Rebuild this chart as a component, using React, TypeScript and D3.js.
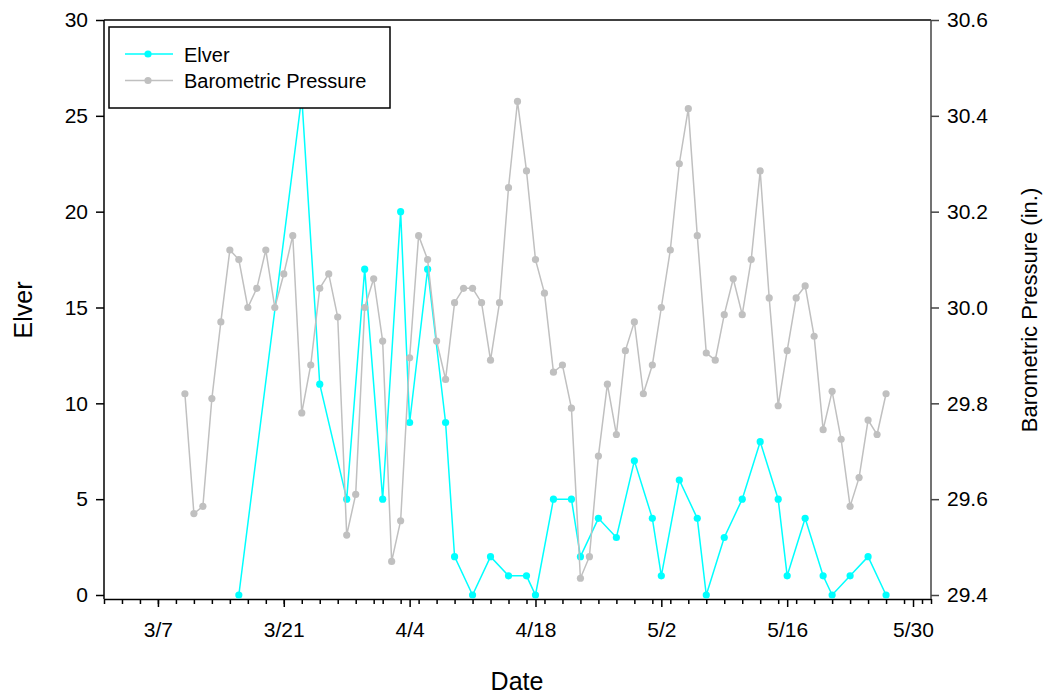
import React, { useEffect, useRef } from "react";
import * as d3 from "d3";

const YEAR = 2009;

// Elver counts (left axis)
const elverDates = [
  "3/16", "3/23", "3/25", "3/28", "3/30", "4/1", "4/3", "4/4", "4/6", "4/8",
  "4/9", "4/11", "4/13", "4/15", "4/17", "4/18", "4/20", "4/22", "4/23", "4/25",
  "4/27", "4/29", "5/1", "5/2", "5/4", "5/6", "5/7", "5/9", "5/11", "5/13",
  "5/15", "5/16", "5/18", "5/20", "5/21", "5/23", "5/25", "5/27",
];
const elverValues = [
  0, 26, 11, 5, 17, 5, 20, 9, 17, 9,
  2, 0, 2, 1, 1, 0, 5, 5, 2, 4,
  3, 7, 4, 1, 6, 4, 0, 3, 5, 8,
  5, 1, 4, 1, 0, 1, 2, 0,
];

// Barometric pressure, daily (right axis)
const pressureDates = [
  "3/10", "3/11", "3/12", "3/13", "3/14", "3/15", "3/16", "3/17", "3/18", "3/19",
  "3/20", "3/21", "3/22", "3/23", "3/24", "3/25", "3/26", "3/27", "3/28", "3/29",
  "3/30", "3/31", "4/1", "4/2", "4/3", "4/4", "4/5", "4/6", "4/7", "4/8",
  "4/9", "4/10", "4/11", "4/12", "4/13", "4/14", "4/15", "4/16", "4/17", "4/18",
  "4/19", "4/20", "4/21", "4/22", "4/23", "4/24", "4/25", "4/26", "4/27", "4/28",
  "4/29", "4/30", "5/1", "5/2", "5/3", "5/4", "5/5", "5/6", "5/7", "5/8",
  "5/9", "5/10", "5/11", "5/12", "5/13", "5/14", "5/15", "5/16", "5/17", "5/18",
  "5/19", "5/20", "5/21", "5/22", "5/23", "5/24", "5/25", "5/26", "5/27",
];
const pressureValues = [
  29.82, 29.57, 29.585, 29.81, 29.97, 30.12, 30.1, 30.0, 30.04, 30.12,
  30.0, 30.07, 30.15, 29.78, 29.88, 30.04, 30.07, 29.98, 29.525, 29.61,
  30.0, 30.06, 29.93, 29.47, 29.555, 29.895, 30.15, 30.1, 29.93, 29.85,
  30.01, 30.04, 30.04, 30.01, 29.89, 30.01, 30.25, 30.43, 30.285, 30.1,
  30.03, 29.865, 29.88, 29.79, 29.435, 29.48, 29.69, 29.84, 29.735, 29.91,
  29.97, 29.82, 29.88, 30.0, 30.12, 30.3, 30.415, 30.15, 29.905, 29.89,
  29.985, 30.06, 29.985, 30.1, 30.285, 30.02, 29.795, 29.91, 30.02, 30.045,
  29.94, 29.745, 29.825, 29.725, 29.585, 29.645, 29.765, 29.735, 29.82,
];

const xDomain = ["3/1", "6/1"];
const xTickLabels = ["3/7", "3/21", "4/4", "4/18", "5/2", "5/16", "5/30"];
const leftTicks = [0, 5, 10, 15, 20, 25, 30];
const rightTicks = [29.4, 29.6, 29.8, 30.0, 30.2, 30.4, 30.6];

const seriesNames = ["Elver", "Barometric Pressure"];
const seriesColors = ["#00ffff", "#c0c0c0"];

const parseDay = (s: string) => {
  const [m, d] = s.split("/").map(Number);
  return new Date(Date.UTC(YEAR, m - 1, d));
};

const FONT = "'Liberation Sans', Arial, Helvetica, sans-serif";

const App: React.FC = () => {
  const svgRef = useRef<SVGSVGElement>(null);

  useEffect(() => {
    if (!svgRef.current) return;
    const svg = d3.select(svgRef.current);
    svg.selectAll("*").remove();

    const width = 1055;
    const height = 698;
    const left = 104;
    const right = 931;
    const top = 20;
    const zeroY = 595;
    const axisY = 599;

    svg.attr("width", width).attr("height", height).style("font-family", FONT);

    const x = d3
      .scaleUtc()
      .domain(xDomain.map(parseDay))
      .range([left, right]);
    const yLeft = d3.scaleLinear().domain([0, 30]).range([zeroY, top]);
    const yRight = d3.scaleLinear().domain([29.4, 30.6]).range([zeroY, top]);

    // frame lines
    svg
      .append("line")
      .attr("x1", left)
      .attr("x2", right)
      .attr("y1", top)
      .attr("y2", top)
      .attr("stroke", "#000")
      .attr("stroke-width", 1.5);

    // x axis: minor ticks every 2 days, labelled majors
    const minorTicks = d3.utcDay.every(2)!.range(x.domain()[0], d3.utcDay.offset(x.domain()[1], 1));
    const xMinor = svg.append("g").attr("transform", `translate(0,${axisY})`);
    xMinor
      .call(
        d3
          .axisBottom(x)
          .tickValues(minorTicks)
          .tickSize(5)
          .tickSizeOuter(0)
          .tickFormat(() => "")
      )
      .call((g) => g.select(".domain").attr("stroke", "#000").attr("stroke-width", 1.5));
    xMinor.selectAll(".tick line").attr("stroke", "#000").attr("stroke-width", 1.5);

    const xMajor = svg.append("g").attr("transform", `translate(0,${axisY})`);
    xMajor
      .call(
        d3
          .axisBottom(x)
          .tickValues(xTickLabels.map(parseDay))
          .tickSize(8)
          .tickPadding(15)
          .tickFormat((d) => d3.utcFormat("%-m/%-d")(d as Date))
      )
      .call((g) => g.select(".domain").remove());
    xMajor.selectAll(".tick line").attr("stroke", "#000").attr("stroke-width", 1.5);
    xMajor
      .selectAll(".tick text")
      .attr("fill", "#000")
      .style("font-size", "21px")
      .style("font-family", FONT);

    // left axis
    const gl = svg.append("g").attr("transform", `translate(${left},0)`);
    gl.call(
      d3
        .axisLeft(yLeft)
        .tickValues(leftTicks)
        .tickSize(8)
        .tickSizeOuter(0)
        .tickPadding(8)
        .tickFormat((d) => String(d))
    );
    gl.select(".domain").attr("d", `M0,${top}V${axisY}`).attr("stroke", "#000").attr("stroke-width", 1.5);
    gl.selectAll(".tick line").attr("stroke", "#000").attr("stroke-width", 1.5);
    gl.selectAll(".tick text")
      .attr("fill", "#000")
      .style("font-size", "21px")
      .style("font-family", FONT);

    // right axis
    const gr = svg.append("g").attr("transform", `translate(${right},0)`);
    gr.call(
      d3
        .axisRight(yRight)
        .tickValues(rightTicks)
        .tickSize(8)
        .tickSizeOuter(0)
        .tickPadding(8)
        .tickFormat(d3.format(".1f"))
    );
    gr.select(".domain").attr("d", `M0,${top}V${axisY}`).attr("stroke", "#444").attr("stroke-width", 1.5);
    gr.selectAll(".tick line").attr("stroke", "#444").attr("stroke-width", 1.5);
    gr.selectAll(".tick text")
      .attr("fill", "#000")
      .style("font-size", "21px")
      .style("font-family", FONT);

    // axis titles
    svg
      .append("text")
      .attr("transform", `translate(32,310) rotate(-90)`)
      .attr("text-anchor", "middle")
      .style("font-size", "25px")
      .text("Elver");

    svg
      .append("text")
      .attr("x", 517)
      .attr("y", 690)
      .attr("text-anchor", "middle")
      .style("font-size", "25px")
      .text("Date");

    svg
      .append("text")
      .attr("transform", `translate(1037,310) rotate(-90)`)
      .attr("text-anchor", "middle")
      .style("font-size", "22px")
      .text("Barometric Pressure (in.)");

    // series
    const elver = elverDates.map((d, i) => ({ date: parseDay(d), value: elverValues[i] }));
    const pressure = pressureDates.map((d, i) => ({ date: parseDay(d), value: pressureValues[i] }));

    const elverLine = d3
      .line<{ date: Date; value: number }>()
      .x((d) => x(d.date))
      .y((d) => yLeft(d.value));
    const pressureLine = d3
      .line<{ date: Date; value: number }>()
      .x((d) => x(d.date))
      .y((d) => yRight(d.value));

    svg
      .append("path")
      .attr("d", elverLine(elver) || "")
      .attr("fill", "none")
      .attr("stroke", seriesColors[0])
      .attr("stroke-width", 1.5);
    svg
      .append("g")
      .selectAll("circle")
      .data(elver)
      .join("circle")
      .attr("cx", (d) => x(d.date))
      .attr("cy", (d) => yLeft(d.value))
      .attr("r", 3.6)
      .attr("fill", seriesColors[0]);

    svg
      .append("path")
      .attr("d", pressureLine(pressure) || "")
      .attr("fill", "none")
      .attr("stroke", seriesColors[1])
      .attr("stroke-width", 1.5);
    svg
      .append("g")
      .selectAll("circle")
      .data(pressure)
      .join("circle")
      .attr("cx", (d) => x(d.date))
      .attr("cy", (d) => yRight(d.value))
      .attr("r", 3.6)
      .attr("fill", seriesColors[1]);

    // legend
    const legend = svg.append("g");
    legend
      .append("rect")
      .attr("x", 109)
      .attr("y", 27)
      .attr("width", 281)
      .attr("height", 81)
      .attr("fill", "#fff")
      .attr("stroke", "#000")
      .attr("stroke-width", 1.5);

    seriesNames.forEach((name, i) => {
      const ly = 54 + i * 26.5;
      legend
        .append("line")
        .attr("x1", 125)
        .attr("x2", 173)
        .attr("y1", ly)
        .attr("y2", ly)
        .attr("stroke", seriesColors[i])
        .attr("stroke-width", 1.5);
      legend
        .append("circle")
        .attr("cx", 148)
        .attr("cy", ly)
        .attr("r", 3.6)
        .attr("fill", seriesColors[i]);
      legend
        .append("text")
        .attr("x", 184)
        .attr("y", ly + 7.5)
        .style("font-size", "20px")
        .text(name);
    });
  }, []);

  return (
    <div>
      <svg ref={svgRef} style={{ position: "absolute", left: 0, top: 0 }}></svg>
    </div>
  );
};

export default App;
